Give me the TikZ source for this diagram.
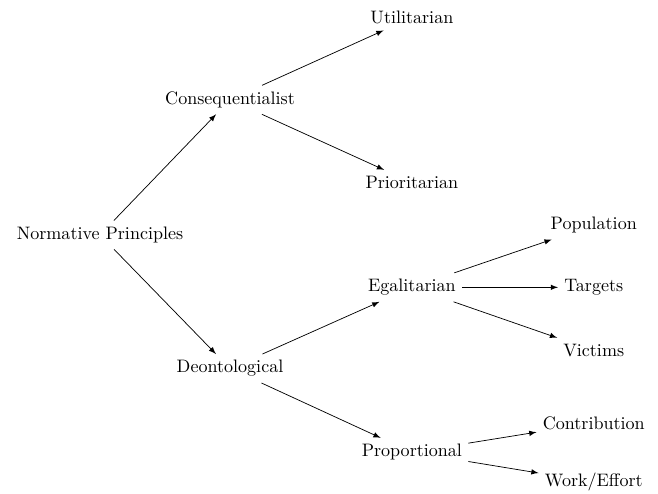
\documentclass[tikz,border=0pt]{standalone}
\usetikzlibrary{positioning}

\begin{document}
\begin{tikzpicture}[->,>=latex,on grid]
	\tikzstyle{principle}=[inner sep=3.33pt]

	\useasboundingbox (-55.4pt,130.1pt) rectangle (309pt,-143.4pt);

	\node[principle](normative){Normative Principles};

	\node[principle,above right=2.63cm and 2.53cm of normative](consequentialist){Consequentialist};
	\node[principle,below right=2.6cm and 2.53cm of normative](deontological){Deontological};

	\node[principle,above right=1.6cm and 3.54cm of consequentialist](utilitarian){Utilitarian};
	\node[principle,below right=1.61cm and 3.54cm of consequentialist](prioritarian){Prioritarian};

	\node[principle,above right=1.58cm and 3.54cm of deontological](egalitarian){Egalitarian};
	\node[principle,below right=1.63cm and 3.54cm of deontological](proportional){Proportional};

	\node[principle,above right=1.21cm and 3.54cm of egalitarian](population){Population};
	\node[principle,right=3.54cm of egalitarian](targets){Targets};
	\node[principle,below right=1.23cm and 3.54cm of egalitarian](victims){Victims};

	\node[principle,above right=0.57cm and 3.54cm of proportional](contribution){Contribution};
	\node[principle,below right=0.58cm and 3.54cm of proportional](work_effort){Work/Effort};

	\draw(normative) -- (consequentialist);
	\draw(normative) -- (deontological);

	\draw(consequentialist) -- (utilitarian);
	\draw(consequentialist) -- (prioritarian);

	\draw(deontological) -- (egalitarian);
	\draw(deontological) -- (proportional);

	\draw(egalitarian) -- (population);
	\draw(egalitarian) -- (targets);
	\draw(egalitarian) -- (victims);

	\draw(proportional) -- (contribution);
	\draw(proportional) -- (work_effort);
\end{tikzpicture}
\end{document}
